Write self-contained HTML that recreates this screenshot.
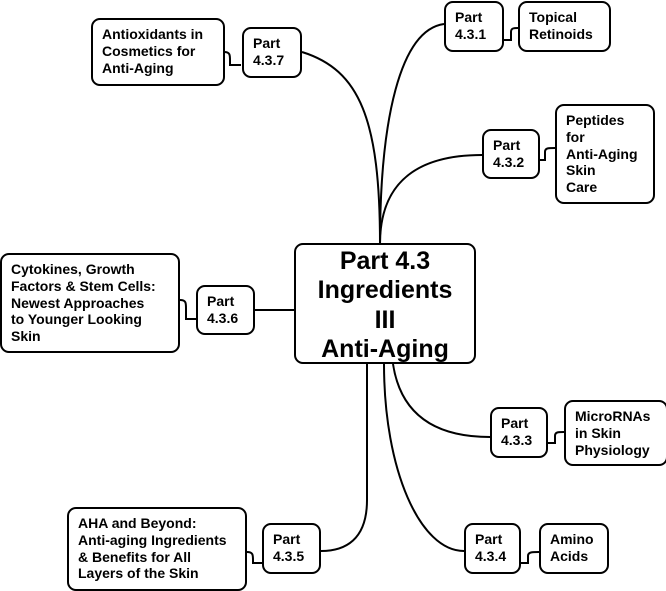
<!DOCTYPE html>
<html><head><style>
body{margin:0;width:666px;height:591px;background:#fff;position:relative;overflow:hidden;font-family:"Liberation Sans",Arial,sans-serif;font-weight:bold;color:#000}
.b{position:absolute;border:2px solid #000;border-radius:9px;box-sizing:border-box;background:#fff;font-size:14px;line-height:16.8px;padding:6px 0 0 9px;white-space:nowrap}
.c{text-align:center;padding:2px 0 0 0;font-size:25px;line-height:29.3px}
svg{position:absolute;left:0;top:0}
</style></head><body>
<svg width="666" height="591" fill="none" stroke="#000" stroke-width="2">
<path d="M380 244 C380 120 360 70 302 52"/>
<path d="M380 244 C380 120 400 30 444 24"/>
<path d="M380 244 C380 180 420 155 482 155"/>
<path d="M255 310 L295 310"/>
<path d="M367 364 L367 500 C367 540 345 551 321 551"/>
<path d="M384 364 C384 470 420 551 464 551"/>
<path d="M393 364 C400 410 430 437 490 437"/>
<path d="M224 52 C230 52 230 55 230 60 L230 65 L241 65"/>
<path d="M504 40 L511 40 L511 32 C511 28 514 28 518 28"/>
<path d="M540 160 L545 160 L545 152 C545 148 548 148 555 148"/>
<path d="M180 300 C186 300 186 303 186 308 L186 319 L196 319"/>
<path d="M548 443 L555 443 L555 436 C555 432 558 432 564 432"/>
<path d="M247 552 C253 552 253 555 253 560 L253 563 L262 563"/>
<path d="M521 563 L528 563 L528 556 C528 552 532 552 539 552"/>
</svg>
<div class="b" style="left:91px;top:18px;width:134px;height:68px">Antioxidants in<br>Cosmetics for<br>Anti-Aging</div>
<div class="b" style="left:242px;top:27px;width:60px;height:51px">Part<br>4.3.7</div>
<div class="b" style="left:444px;top:1px;width:60px;height:51px">Part<br>4.3.1</div>
<div class="b" style="left:518px;top:1px;width:93px;height:51px">Topical<br>Retinoids</div>
<div class="b" style="left:482px;top:129px;width:58px;height:50px">Part<br>4.3.2</div>
<div class="b" style="left:555px;top:104px;width:100px;height:100px">Peptides<br>for<br>Anti-Aging<br>Skin<br>Care</div>
<div class="b" style="left:0px;top:253px;width:180px;height:100px">Cytokines, Growth<br>Factors &amp; Stem Cells:<br>Newest Approaches<br>to Younger Looking<br>Skin</div>
<div class="b" style="left:196px;top:285px;width:59px;height:50px">Part<br>4.3.6</div>
<div class="b c" style="left:294px;top:243px;width:182px;height:121px">Part 4.3<br>Ingredients<br>III<br>Anti-Aging</div>
<div class="b" style="left:490px;top:407px;width:58px;height:51px">Part<br>4.3.3</div>
<div class="b" style="left:564px;top:400px;width:104px;height:66px">MicroRNAs<br>in Skin<br>Physiology</div>
<div class="b" style="left:67px;top:507px;width:180px;height:84px">AHA and Beyond:<br>Anti-aging Ingredients<br>&amp; Benefits for All<br>Layers of the Skin</div>
<div class="b" style="left:262px;top:523px;width:59px;height:51px">Part<br>4.3.5</div>
<div class="b" style="left:464px;top:523px;width:57px;height:51px">Part<br>4.3.4</div>
<div class="b" style="left:539px;top:523px;width:70px;height:51px">Amino<br>Acids</div>
</body></html>
